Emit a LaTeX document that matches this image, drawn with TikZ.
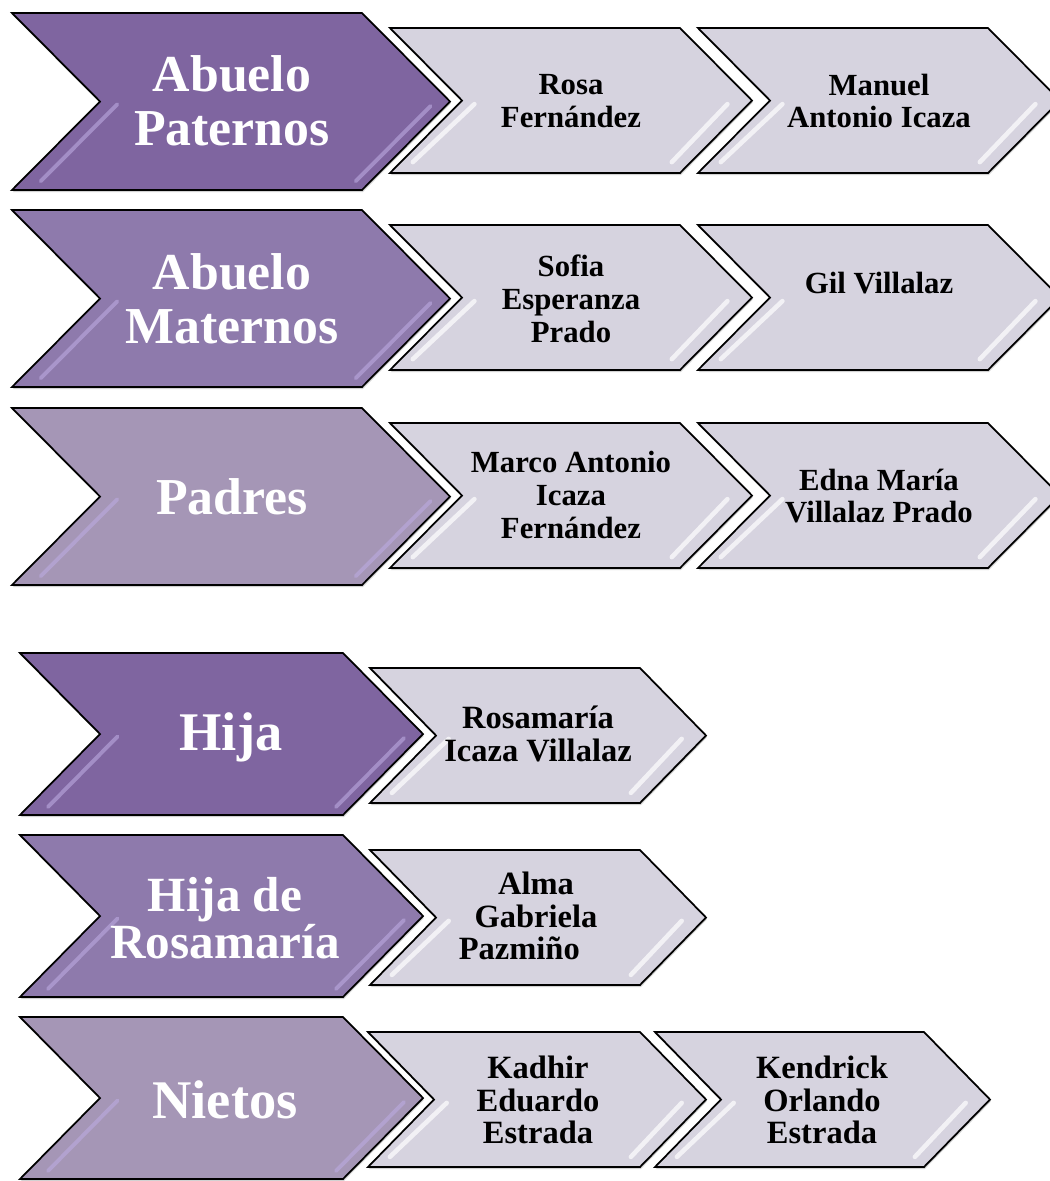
\documentclass[tikz,border=0pt]{standalone}
\usepackage{fontspec}
\setmainfont{Liberation Serif}
\usetikzlibrary{shadows}

\definecolor{purpleA}{HTML}{7F65A0}
\definecolor{purpleB}{HTML}{8E7AAC}
\definecolor{purpleC}{HTML}{A596B6}
\definecolor{lilac}{HTML}{D6D3DF}
\definecolor{glosspurple}{HTML}{BCAAE0}

\tikzset{
  chev/.style={draw=black, line width=1pt, line join=miter,
    drop shadow={shadow xshift=0.4pt, shadow yshift=-1.2pt, opacity=0.35}},
  purplegloss/.style={glosspurple, line width=2.2pt, line cap=round, opacity=0.6},
  graygloss/.style={white, line width=2.6pt, line cap=round, opacity=0.7},
  ptext/.style={text=white, align=center, font=\fontsize{29.5}{30.6}\selectfont\bfseries},
  gtext/.style={text=black, align=center, font=\fontsize{17.5}{18.7}\selectfont\bfseries},
  gtextlow/.style={gtext, font=\fontsize{18.5}{18.4}\selectfont\bfseries}
}

\begin{document}
\begin{tikzpicture}[x=0.02cm, y=-0.02cm]
      \clip (0,0) rectangle (1050,1181);
      \fill[white] (0,0) rectangle (1050,1181);
      \foreach \l/\r/\t/\b/\d/\c in {12/450/13/190/88/purpleA, 12/450/210/387/88/purpleB, 12/450/408/585/88/purpleC,
          20/423/653/815/80/purpleA, 20/423/835/997/80/purpleB, 20/423/1017/1179/80/purpleC}{
        \pgfmathsetmacro\m{(\t+\b)/2}
        \pgfmathsetmacro\h{(\b-\t)/2}
        \draw[chev, fill=\c] (\l,\t) -- ({\r-\d},\t) -- (\r,\m) -- ({\r-\d},\b) -- (\l,\b) -- ({\l+\d},\m) -- cycle;
        \draw[purplegloss] ({\l+0.97*\d+20},{\m+0.03*\h}) -- ({\l+0.1*\d+20},{\m+0.9*\h});
        \draw[purplegloss] ({\r-0.05*\d-15},{\m+0.05*\h}) -- ({\r-0.9*\d-15},{\m+0.9*\h});
      }
      \foreach \l/\r/\t/\b/\d in {390/752/28/173/72, 698/1060/28/173/72, 390/752/225/370/72, 698/1060/225/370/72,
          390/752/423/568/72, 698/1060/423/568/72, 370/706/668/803/66, 370/706/850/985/66,
          368/706/1032/1167/66, 655/990/1032/1167/66}{
        \pgfmathsetmacro\m{(\t+\b)/2}
        \pgfmathsetmacro\h{(\b-\t)/2}
        \draw[chev, fill=lilac] (\l,\t) -- ({\r-\d},\t) -- (\r,\m) -- ({\r-\d},\b) -- (\l,\b) -- ({\l+\d},\m) -- cycle;
        \draw[graygloss] ({\l+0.95*\d+16},{\m+0.05*\h}) -- ({\l+0.15*\d+12},{\m+0.85*\h});
        \draw[graygloss] ({\r-0.05*\d-21},{\m+0.05*\h}) -- ({\r-0.85*\d-19},{\m+0.85*\h});
      }
      \node[ptext] (abpat) at (232,101) {Abuelo\\Paternos};
      \node[ptext] (abmat) at (232,299) {Abuelo\\Maternos};
      \node[ptext] (padres) at (232,497) {Padres};
      \node[gtext] (rosa) at (571,101) {Rosa\\Fernández};
      \node[gtext] (manuel) at (879,101) {Manuel\\Antonio Icaza};
      \node[gtext] (sofia) at (571,299) {Sofia\\Esperanza\\Prado};
      \node[gtext] (gil) at (879,283) {Gil Villalaz};
      \node[gtext] (marco) at (571,495) {Marco Antonio\\Icaza\\Fernández};
      \node[gtext] (edna) at (879,496) {Edna María\\Villalaz Prado};
      \node[ptext, font=\fontsize{31}{33}\selectfont\bfseries] (hija) at (231,737) {Hija};
      \node[ptext, font=\fontsize{28}{21.5}\selectfont\bfseries] (hijaros) at (225,918) {Hija de\\Rosamaría};
      \node[ptext, font=\fontsize{31}{33}\selectfont\bfseries] (nietos) at (225,1100) {Nietos};
      \node[gtextlow] (rosamaria) at (538,734) {Rosamaría\\Icaza Villalaz};
      \node[gtextlow] (alma) at (536,916) {Alma\\Gabriela\\Pazmiño\hspace*{19pt}};
      \node[gtextlow] (kadhir) at (538,1100) {Kadhir\\Eduardo\\Estrada};
      \node[gtextlow] (kendrick) at (822,1100) {Kendrick\\Orlando\\Estrada};
\end{tikzpicture}
\end{document}
